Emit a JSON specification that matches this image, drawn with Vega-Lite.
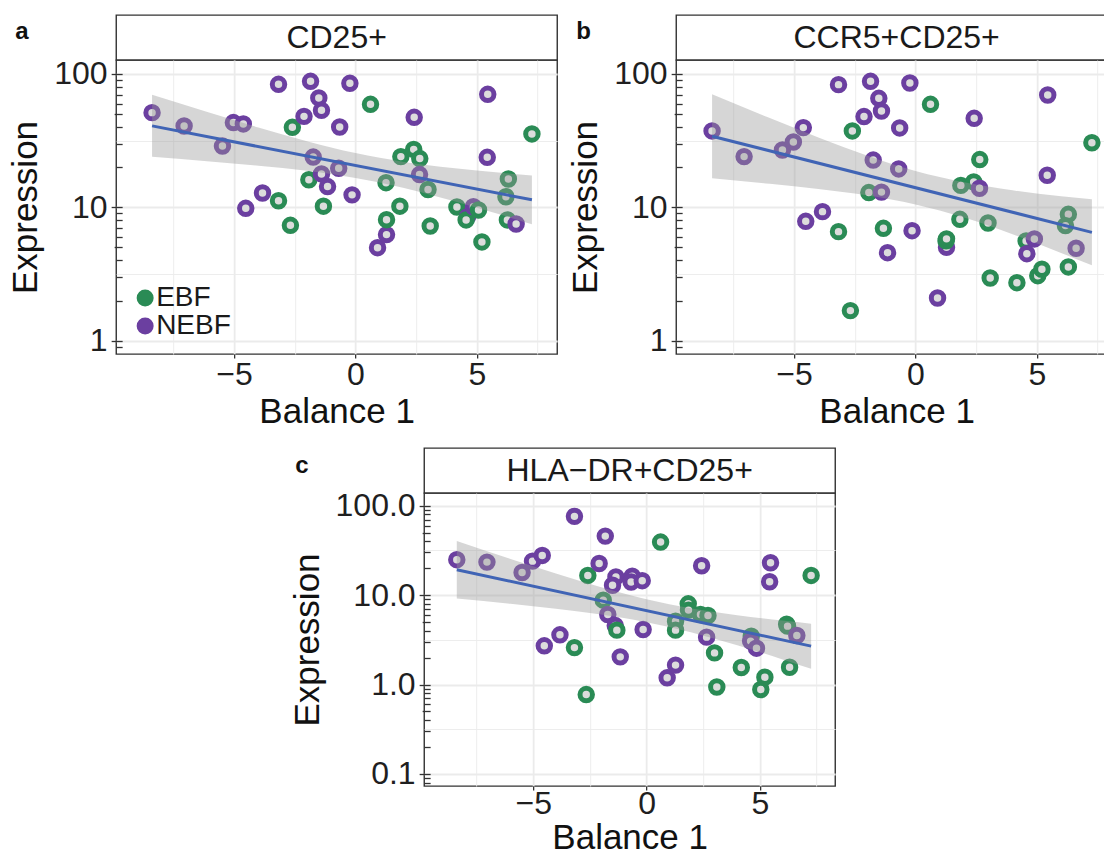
{
  "$schema": "https://vega.github.io/schema/vega-lite/v6.json",
  "background": "white",
  "padding": {"left": 8, "top": 14, "right": 0, "bottom": 0},
  "config": {
    "font": "Liberation Sans",
    "view": {"stroke": "#333333", "strokeWidth": 1.4},
    "axis": {"domain": false, "grid": true, "gridColor": "#EBEBEB", "tickColor": "#333333", "tickWidth": 1.3, "labelFontSize": 32, "labelColor": "#1f1f1f", "titleFontSize": 35, "titleFontWeight": "normal", "titleColor": "#111111", "labelFont": "Liberation Sans", "titleFont": "Liberation Sans", "labelOverlap": false, "labelFlush": false}
  },
  "datasets": {
    "ptsA": [
      {"x": -8.38, "y": 51.3, "group": "NEBF"}, {"x": -7.06, "y": 40.7, "group": "NEBF"}, {"x": -5.48, "y": 28.8, "group": "NEBF"}, {"x": -5.03, "y": 43.2, "group": "NEBF"}, {"x": -4.62, "y": 42.2, "group": "NEBF"}, {"x": -4.52, "y": 9.83, "group": "NEBF"}, {"x": -3.83, "y": 12.8, "group": "NEBF"}, {"x": -3.17, "y": 83.6, "group": "NEBF"}, {"x": -3.17, "y": 11.2, "group": "EBF"}, {"x": -2.68, "y": 7.33, "group": "EBF"}, {"x": -2.6, "y": 39.8, "group": "EBF"}, {"x": -2.12, "y": 48.1, "group": "NEBF"}, {"x": -1.85, "y": 88.1, "group": "NEBF"}, {"x": -1.92, "y": 16.1, "group": "EBF"}, {"x": -1.74, "y": 23.8, "group": "NEBF"}, {"x": -1.51, "y": 66.1, "group": "NEBF"}, {"x": -1.4, "y": 53.4, "group": "NEBF"}, {"x": -1.4, "y": 17.8, "group": "NEBF"}, {"x": -1.15, "y": 14.3, "group": "NEBF"}, {"x": -1.32, "y": 10.2, "group": "EBF"}, {"x": -0.65, "y": 40.0, "group": "NEBF"}, {"x": -0.69, "y": 19.6, "group": "NEBF"}, {"x": -0.23, "y": 85.1, "group": "NEBF"}, {"x": -0.14, "y": 12.4, "group": "NEBF"}, {"x": 0.62, "y": 59.2, "group": "EBF"}, {"x": 0.91, "y": 4.98, "group": "NEBF"}, {"x": 1.28, "y": 6.24, "group": "NEBF"}, {"x": 1.28, "y": 8.08, "group": "EBF"}, {"x": 1.26, "y": 15.3, "group": "EBF"}, {"x": 1.83, "y": 10.2, "group": "EBF"}, {"x": 1.87, "y": 24.0, "group": "EBF"}, {"x": 2.4, "y": 27.2, "group": "EBF"}, {"x": 2.42, "y": 47.3, "group": "NEBF"}, {"x": 2.65, "y": 23.2, "group": "EBF"}, {"x": 2.64, "y": 17.6, "group": "NEBF"}, {"x": 2.99, "y": 13.6, "group": "EBF"}, {"x": 3.08, "y": 7.24, "group": "EBF"}, {"x": 4.18, "y": 10.06, "group": "EBF"}, {"x": 4.62, "y": 8.51, "group": "NEBF"}, {"x": 4.56, "y": 8.04, "group": "EBF"}, {"x": 4.86, "y": 10.1, "group": "NEBF"}, {"x": 5.07, "y": 9.55, "group": "EBF"}, {"x": 5.21, "y": 5.5, "group": "EBF"}, {"x": 5.45, "y": 70.4, "group": "NEBF"}, {"x": 5.43, "y": 23.7, "group": "NEBF"}, {"x": 6.3, "y": 16.3, "group": "EBF"}, {"x": 6.2, "y": 12.0, "group": "EBF"}, {"x": 6.26, "y": 8.04, "group": "EBF"}, {"x": 6.62, "y": 7.5, "group": "NEBF"}, {"x": 7.27, "y": 35.5, "group": "EBF"}
    ],
    "ptsB": [
      {"x": -8.38, "y": 37.4, "group": "NEBF"}, {"x": -7.06, "y": 24.0, "group": "NEBF"}, {"x": -5.48, "y": 26.9, "group": "NEBF"}, {"x": -5.03, "y": 30.9, "group": "NEBF"}, {"x": -4.62, "y": 39.6, "group": "NEBF"}, {"x": -4.52, "y": 7.85, "group": "NEBF"}, {"x": -3.83, "y": 9.28, "group": "NEBF"}, {"x": -3.17, "y": 83.2, "group": "NEBF"}, {"x": -3.17, "y": 6.57, "group": "EBF"}, {"x": -2.68, "y": 1.68, "group": "EBF"}, {"x": -2.6, "y": 37.4, "group": "EBF"}, {"x": -2.12, "y": 47.9, "group": "NEBF"}, {"x": -1.85, "y": 88.1, "group": "NEBF"}, {"x": -1.92, "y": 12.9, "group": "EBF"}, {"x": -1.74, "y": 22.6, "group": "NEBF"}, {"x": -1.51, "y": 65.7, "group": "NEBF"}, {"x": -1.4, "y": 52.8, "group": "NEBF"}, {"x": -1.4, "y": 13.0, "group": "NEBF"}, {"x": -1.15, "y": 4.57, "group": "NEBF"}, {"x": -1.32, "y": 6.96, "group": "EBF"}, {"x": -0.65, "y": 39.4, "group": "NEBF"}, {"x": -0.69, "y": 19.4, "group": "NEBF"}, {"x": -0.23, "y": 85.6, "group": "NEBF"}, {"x": -0.14, "y": 6.68, "group": "NEBF"}, {"x": 0.62, "y": 59.2, "group": "EBF"}, {"x": 0.91, "y": 2.09, "group": "NEBF"}, {"x": 1.28, "y": 5.01, "group": "NEBF"}, {"x": 1.26, "y": 5.6, "group": "EBF"}, {"x": 1.28, "y": 5.8, "group": "EBF"}, {"x": 1.87, "y": 14.6, "group": "EBF"}, {"x": 1.83, "y": 8.13, "group": "EBF"}, {"x": 2.4, "y": 15.5, "group": "EBF"}, {"x": 2.42, "y": 46.5, "group": "NEBF"}, {"x": 2.65, "y": 22.8, "group": "EBF"}, {"x": 2.64, "y": 13.9, "group": "NEBF"}, {"x": 2.99, "y": 7.63, "group": "EBF"}, {"x": 3.08, "y": 2.95, "group": "EBF"}, {"x": 4.18, "y": 2.72, "group": "EBF"}, {"x": 4.56, "y": 5.59, "group": "EBF"}, {"x": 4.59, "y": 4.49, "group": "NEBF"}, {"x": 4.9, "y": 5.79, "group": "NEBF"}, {"x": 5.04, "y": 3.07, "group": "EBF"}, {"x": 5.21, "y": 3.43, "group": "EBF"}, {"x": 5.45, "y": 69.6, "group": "NEBF"}, {"x": 5.43, "y": 17.4, "group": "NEBF"}, {"x": 6.3, "y": 8.86, "group": "EBF"}, {"x": 6.18, "y": 7.29, "group": "EBF"}, {"x": 6.3, "y": 3.57, "group": "EBF"}, {"x": 6.62, "y": 4.93, "group": "NEBF"}, {"x": 7.27, "y": 30.5, "group": "EBF"}
    ],
    "ptsC": [
      {"x": -8.37, "y": 24.9, "group": "NEBF"}, {"x": -7.04, "y": 23.4, "group": "NEBF"}, {"x": -5.49, "y": 17.9, "group": "NEBF"}, {"x": -5.03, "y": 24.0, "group": "NEBF"}, {"x": -4.6, "y": 27.8, "group": "NEBF"}, {"x": -4.51, "y": 2.71, "group": "NEBF"}, {"x": -3.82, "y": 3.6, "group": "NEBF"}, {"x": -3.18, "y": 76.0, "group": "NEBF"}, {"x": -3.18, "y": 2.59, "group": "EBF"}, {"x": -2.66, "y": 0.773, "group": "EBF"}, {"x": -2.59, "y": 16.6, "group": "EBF"}, {"x": -2.09, "y": 22.6, "group": "NEBF"}, {"x": -1.82, "y": 45.7, "group": "NEBF"}, {"x": -1.91, "y": 8.79, "group": "EBF"}, {"x": -1.71, "y": 6.08, "group": "NEBF"}, {"x": -1.35, "y": 16.0, "group": "NEBF"}, {"x": -1.5, "y": 12.9, "group": "NEBF"}, {"x": -1.38, "y": 4.57, "group": "NEBF"}, {"x": -1.31, "y": 4.06, "group": "EBF"}, {"x": -1.16, "y": 2.04, "group": "NEBF"}, {"x": -0.63, "y": 16.3, "group": "NEBF"}, {"x": -0.68, "y": 14.0, "group": "NEBF"}, {"x": -0.19, "y": 14.5, "group": "NEBF"}, {"x": -0.15, "y": 4.13, "group": "NEBF"}, {"x": 0.62, "y": 39.2, "group": "EBF"}, {"x": 0.91, "y": 1.19, "group": "NEBF"}, {"x": 1.28, "y": 1.65, "group": "NEBF"}, {"x": 1.28, "y": 5.12, "group": "EBF"}, {"x": 1.28, "y": 4.06, "group": "EBF"}, {"x": 1.84, "y": 8.0, "group": "EBF"}, {"x": 1.85, "y": 6.8, "group": "EBF"}, {"x": 2.38, "y": 6.08, "group": "EBF"}, {"x": 2.71, "y": 5.92, "group": "EBF"}, {"x": 2.43, "y": 21.3, "group": "NEBF"}, {"x": 2.65, "y": 3.39, "group": "NEBF"}, {"x": 3.0, "y": 2.26, "group": "EBF"}, {"x": 3.1, "y": 0.94, "group": "EBF"}, {"x": 4.18, "y": 1.55, "group": "EBF"}, {"x": 4.62, "y": 3.48, "group": "EBF"}, {"x": 4.59, "y": 3.06, "group": "NEBF"}, {"x": 4.85, "y": 2.55, "group": "NEBF"}, {"x": 5.04, "y": 0.88, "group": "EBF"}, {"x": 5.22, "y": 1.21, "group": "EBF"}, {"x": 5.47, "y": 23.0, "group": "NEBF"}, {"x": 5.43, "y": 14.1, "group": "NEBF"}, {"x": 6.18, "y": 4.74, "group": "EBF"}, {"x": 6.22, "y": 4.5, "group": "EBF"}, {"x": 6.31, "y": 1.56, "group": "EBF"}, {"x": 6.63, "y": 3.54, "group": "NEBF"}, {"x": 7.26, "y": 16.6, "group": "EBF"}
    ],
    "bandA": [
      {"x": -8.38, "y": 23.9, "yhi": 69.8}, {"x": -6, "y": 22.1, "yhi": 51.2}, {"x": -4, "y": 20.5, "yhi": 39.7}, {"x": -2, "y": 18.8, "yhi": 31.3}, {"x": 0, "y": 16.6, "yhi": 25.5}, {"x": 2, "y": 13.98, "yhi": 21.9}, {"x": 4, "y": 11.2, "yhi": 19.7}, {"x": 6, "y": 8.78, "yhi": 18.15}, {"x": 7.27, "y": 7.46, "yhi": 17.35}
    ],
    "bandB": [
      {"x": -8.38, "y": 16.5, "yhi": 70.4}, {"x": -6, "y": 15.0, "yhi": 46.7}, {"x": -4, "y": 13.7, "yhi": 33.4}, {"x": -2, "y": 12.3, "yhi": 24.5}, {"x": 0, "y": 10.5, "yhi": 18.7}, {"x": 2, "y": 8.38, "yhi": 15.4}, {"x": 4, "y": 6.28, "yhi": 13.4}, {"x": 6, "y": 4.55, "yhi": 12.1}, {"x": 7.27, "y": 3.67, "yhi": 11.5}
    ],
    "bandC": [
      {"x": -8.37, "y": 9.17, "yhi": 40.2}, {"x": -6, "y": 7.99, "yhi": 25.4}, {"x": -4, "y": 7.03, "yhi": 17.5}, {"x": -2, "y": 6.06, "yhi": 12.25}, {"x": 0, "y": 4.99, "yhi": 8.99}, {"x": 2, "y": 3.82, "yhi": 7.1}, {"x": 4, "y": 2.75, "yhi": 5.97}, {"x": 6, "y": 1.91, "yhi": 5.19}, {"x": 7.26, "y": 1.5, "yhi": 4.8}
    ],
    "fitA": [{"x": -8.38, "y": 40.8}, {"x": 7.27, "y": 11.38}],
    "fitB": [{"x": -8.38, "y": 34.1}, {"x": 7.27, "y": 6.49}],
    "fitC": [{"x": -8.37, "y": 19.2}, {"x": 7.26, "y": 2.69}]
  },
  "resolve": {"scale": {"stroke": "independent"}, "legend": {"stroke": "independent"}},
  "center": true,
  "spacing": 17,
  "vconcat": [
    {
      "spacing": 9,
      "resolve": {"scale": {"stroke": "independent"}, "legend": {"stroke": "independent"}},
      "hconcat": [
        {
          "spacing": 0,
          "bounds": "flush",
          "resolve": {"scale": {"stroke": "independent"}, "legend": {"stroke": "independent"}},
          "vconcat": [
            {
              "width": 441, "height": 45,
              "view": {"stroke": "#333333", "strokeWidth": 1.4, "fill": "white"},
              "data": {"values": [{"label": "CD25+"}]},
              "title": {"text": "a", "orient": "left", "angle": 0, "anchor": "middle", "align": "center", "baseline": "middle", "offset": 81, "dy": -6, "fontSize": 24, "fontWeight": "bold", "color": "#111111"},
              "mark": {"type": "text", "fontSize": 32, "baseline": "middle", "align": "center", "color": "#1a1a1a"},
              "encoding": {
                "x": {"datum": 0, "type": "quantitative", "scale": {"domain": [-1, 1]}, "axis": null},
                "y": {"datum": 0, "type": "quantitative", "scale": {"domain": [-1, 1]}, "axis": null},
                "text": {"field": "label", "type": "nominal"}
              }
            },
            {
              "width": 441, "height": 294,
              "encoding": {
                "x": {"field": "x", "type": "quantitative", "scale": {"domain": [-9.86, 8.31], "nice": false, "zero": false},
                  "axis": {"title": "Balance 1", "values": [-7.5, -5, -2.5, 0, 2.5, 5, 7.5], "format": "d", "labelExpr": "datum.value % 5 == 0 ? datum.label : ''", "tickOpacity": {"condition": {"test": "datum.value % 5 != 0", "value": 0}, "value": 1}, "gridWidth": {"condition": {"test": "datum.value % 5 != 0", "value": 0.9}, "value": 1.8}, "tickSize": 4, "labelPadding": 1, "titlePadding": 4}},
                "y": {"field": "y", "type": "quantitative", "scale": {"type": "log", "domain": [0.794, 127.3], "nice": false},
                  "axis": {"title": "Expression", "values": [0.9, 1, 2, 3, 4, 5, 6, 7, 8, 9, 10, 20, 30, 40, 50, 60, 70, 80, 90, 100, 3.1623, 31.623], "format": "~g", "labelExpr": "datum.value == 1 || datum.value == 10 || datum.value == 100 ? datum.label : ''", "offset": -6, "tickSize": {"condition": [{"test": "datum.value == 1 || datum.value == 10 || datum.value == 100", "value": 11}, {"test": "datum.value == 5 || datum.value == 50", "value": 8}], "value": 6}, "tickOpacity": {"condition": {"test": "datum.value == 3.1623 || datum.value == 31.623", "value": 0}, "value": 1}, "gridOpacity": {"condition": {"test": "datum.value == 1 || datum.value == 10 || datum.value == 100 || datum.value == 3.1623 || datum.value == 31.623", "value": 1}, "value": 0}, "gridWidth": {"condition": {"test": "datum.value == 3.1623 || datum.value == 31.623", "value": 0.9}, "value": 1.8}, "labelPadding": 4, "titlePadding": 10}}
              },
              "layer": [
                {
                  "data": {"name": "ptsA"},
                  "mark": {"type": "point", "shape": "circle", "size": 155, "opacity": 1},
                  "encoding": {
                    "strokeWidth": {"value": 5},
                    "fill": {"value": "#dcdcdc"},
                    "stroke": {"field": "group", "type": "nominal", "scale": {"domain": ["EBF", "NEBF"], "range": ["#2A8B55", "#6B3FA0"]},
                      "legend": {"title": null, "orient": "none", "legendX": 15, "legendY": 227, "labelFontSize": 28, "labelColor": "#1a1a1a", "symbolType": "M0,-1A1,1 0 1,1 0,1A1,1 0 1,1 0,-1Z M0,-0.45A0.45,0.45 0 1,1 0,0.45A0.45,0.45 0 1,1 0,-0.45Z M-0.2,0L0.2,0", "symbolSize": 144, "symbolStrokeWidth": 5, "symbolFillColor": "#2A8B55", "symbolOpacity": 1, "rowPadding": 0, "clipHeight": 22, "labelOffset": -3}}
                  }
                },
                {
                  "data": {"name": "bandA"},
                  "mark": {"type": "area", "color": "#999999", "opacity": 0.4, "interpolate": "monotone"},
                  "encoding": {"y2": {"field": "yhi"}}
                },
                {
                  "data": {"name": "fitA"},
                  "mark": {"type": "line", "color": "#4064B5", "strokeWidth": 3}
                }
              ]
            }
          ]
        },
        {
          "spacing": 0,
          "bounds": "flush",
          "resolve": {"scale": {"stroke": "independent"}, "legend": {"stroke": "independent"}},
          "vconcat": [
            {
              "width": 467, "height": 45,
              "view": {"stroke": "#333333", "strokeWidth": 1.4, "fill": "white"},
              "data": {"values": [{"label": "CCR5+CD25+"}]},
              "title": {"text": "b", "orient": "left", "angle": 0, "anchor": "middle", "align": "center", "baseline": "middle", "offset": 78, "dy": -6, "fontSize": 24, "fontWeight": "bold", "color": "#111111"},
              "mark": {"type": "text", "fontSize": 32, "baseline": "middle", "align": "center", "color": "#1a1a1a"},
              "encoding": {
                "x": {"datum": 0, "type": "quantitative", "scale": {"domain": [-1.0, 1.118]}, "axis": null},
                "y": {"datum": 0, "type": "quantitative", "scale": {"domain": [-1, 1]}, "axis": null},
                "text": {"field": "label", "type": "nominal"}
              }
            },
            {
              "width": 467, "height": 294,
              "encoding": {
                "x": {"field": "x", "type": "quantitative", "scale": {"domain": [-9.86, 9.382], "nice": false, "zero": false},
                  "axis": {"title": "Balance 1", "values": [-7.5, -5, -2.5, 0, 2.5, 5, 7.5], "format": "d", "labelExpr": "datum.value % 5 == 0 ? datum.label : ''", "tickOpacity": {"condition": {"test": "datum.value % 5 != 0", "value": 0}, "value": 1}, "gridWidth": {"condition": {"test": "datum.value % 5 != 0", "value": 0.9}, "value": 1.8}, "tickSize": 4, "labelPadding": 1, "titlePadding": 4, "titleX": 220.5}},
                "y": {"field": "y", "type": "quantitative", "scale": {"type": "log", "domain": [0.794, 127.3], "nice": false},
                  "axis": {"title": "Expression", "values": [0.9, 1, 2, 3, 4, 5, 6, 7, 8, 9, 10, 20, 30, 40, 50, 60, 70, 80, 90, 100, 3.1623, 31.623], "format": "~g", "labelExpr": "datum.value == 1 || datum.value == 10 || datum.value == 100 ? datum.label : ''", "offset": -6, "tickSize": {"condition": [{"test": "datum.value == 1 || datum.value == 10 || datum.value == 100", "value": 11}, {"test": "datum.value == 5 || datum.value == 50", "value": 8}], "value": 6}, "tickOpacity": {"condition": {"test": "datum.value == 3.1623 || datum.value == 31.623", "value": 0}, "value": 1}, "gridOpacity": {"condition": {"test": "datum.value == 1 || datum.value == 10 || datum.value == 100 || datum.value == 3.1623 || datum.value == 31.623", "value": 1}, "value": 0}, "gridWidth": {"condition": {"test": "datum.value == 3.1623 || datum.value == 31.623", "value": 0.9}, "value": 1.8}, "labelPadding": 4, "titlePadding": 10}}
              },
              "layer": [
                {
                  "data": {"name": "ptsB"},
                  "mark": {"type": "point", "shape": "circle", "size": 155, "opacity": 1},
                  "encoding": {
                    "strokeWidth": {"value": 5},
                    "fill": {"value": "#dcdcdc"},
                    "stroke": {"field": "group", "type": "nominal", "scale": {"domain": ["EBF", "NEBF"], "range": ["#2A8B55", "#6B3FA0"]}, "legend": null}
                  }
                },
                {
                  "data": {"name": "bandB"},
                  "mark": {"type": "area", "color": "#999999", "opacity": 0.4, "interpolate": "monotone"},
                  "encoding": {"y2": {"field": "yhi"}}
                },
                {
                  "data": {"name": "fitB"},
                  "mark": {"type": "line", "color": "#4064B5", "strokeWidth": 3}
                }
              ]
            }
          ]
        }
      ]
    },
    {
      "spacing": 0,
      "bounds": "flush",
      "resolve": {"scale": {"stroke": "independent"}, "legend": {"stroke": "independent"}},
      "vconcat": [
        {
          "width": 411, "height": 45,
          "view": {"stroke": "#333333", "strokeWidth": 1.4, "fill": "white"},
          "data": {"values": [{"label": "HLA−DR+CD25+"}]},
          "title": {"text": "c", "orient": "left", "angle": 0, "anchor": "middle", "align": "center", "baseline": "middle", "offset": 109, "dy": -5, "fontSize": 24, "fontWeight": "bold", "color": "#111111"},
          "mark": {"type": "text", "fontSize": 32, "baseline": "middle", "align": "center", "color": "#1a1a1a"},
          "encoding": {
            "x": {"datum": 0, "type": "quantitative", "scale": {"domain": [-1, 1]}, "axis": null},
            "y": {"datum": 0, "type": "quantitative", "scale": {"domain": [-1, 1]}, "axis": null},
            "text": {"field": "label", "type": "nominal"}
          }
        },
        {
          "width": 411, "height": 293,
          "encoding": {
            "x": {"field": "x", "type": "quantitative", "scale": {"domain": [-9.81, 8.32], "nice": false, "zero": false},
              "axis": {"title": "Balance 1", "values": [-7.5, -5, -2.5, 0, 2.5, 5, 7.5], "format": "d", "labelExpr": "datum.value % 5 == 0 ? datum.label : ''", "tickOpacity": {"condition": {"test": "datum.value % 5 != 0", "value": 0}, "value": 1}, "gridWidth": {"condition": {"test": "datum.value % 5 != 0", "value": 0.9}, "value": 1.8}, "tickSize": 4, "labelPadding": -2, "titlePadding": 1}},
            "y": {"field": "y", "type": "quantitative", "scale": {"type": "log", "domain": [0.0734, 138.7], "nice": false},
              "axis": {"title": "Expression", "values": [0.08, 0.09, 0.1, 0.2, 0.3, 0.4, 0.5, 0.6, 0.7, 0.8, 0.9, 1, 2, 3, 4, 5, 6, 7, 8, 9, 10, 20, 30, 40, 50, 60, 70, 80, 90, 100, 0.31623, 3.1623, 31.623], "format": ".1f", "labelExpr": "datum.value == 0.1 || datum.value == 1 || datum.value == 10 || datum.value == 100 ? datum.label : ''", "offset": -6, "tickSize": {"condition": [{"test": "datum.value == 0.1 || datum.value == 1 || datum.value == 10 || datum.value == 100", "value": 11}, {"test": "datum.value == 0.5 || datum.value == 5 || datum.value == 50", "value": 8}], "value": 6}, "tickOpacity": {"condition": {"test": "datum.value == 0.31623 || datum.value == 3.1623 || datum.value == 31.623", "value": 0}, "value": 1}, "gridOpacity": {"condition": {"test": "datum.value == 0.1 || datum.value == 1 || datum.value == 10 || datum.value == 100 || datum.value == 0.31623 || datum.value == 3.1623 || datum.value == 31.623", "value": 1}, "value": 0}, "gridWidth": {"condition": {"test": "datum.value == 0.31623 || datum.value == 3.1623 || datum.value == 31.623", "value": 0.9}, "value": 1.8}, "labelPadding": 4, "titlePadding": 10}}
          },
          "layer": [
            {
              "data": {"name": "ptsC"},
              "mark": {"type": "point", "shape": "circle", "size": 155, "opacity": 1},
              "encoding": {
                "strokeWidth": {"value": 5},
                "fill": {"value": "#dcdcdc"},
                "stroke": {"field": "group", "type": "nominal", "scale": {"domain": ["EBF", "NEBF"], "range": ["#2A8B55", "#6B3FA0"]}, "legend": null}
              }
            },
            {
              "data": {"name": "bandC"},
              "mark": {"type": "area", "color": "#999999", "opacity": 0.4, "interpolate": "monotone"},
              "encoding": {"y2": {"field": "yhi"}}
            },
            {
              "data": {"name": "fitC"},
              "mark": {"type": "line", "color": "#4064B5", "strokeWidth": 3}
            }
          ]
        }
      ]
    }
  ]
}
